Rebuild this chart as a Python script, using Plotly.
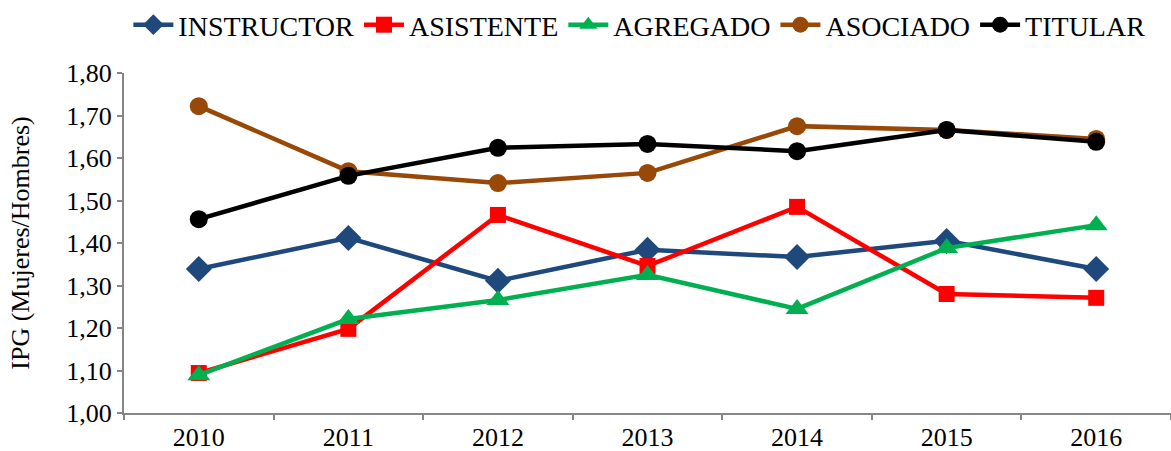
import plotly.graph_objects as go

# Data
years = ["2010", "2011", "2012", "2013", "2014", "2015", "2016"]
instructor = [1.339, 1.412, 1.311, 1.384, 1.367, 1.405, 1.339]
asistente = [1.094, 1.198, 1.466, 1.346, 1.485, 1.280, 1.271]
agregado = [1.089, 1.221, 1.266, 1.325, 1.245, 1.388, 1.442]
asociado = [1.722, 1.569, 1.541, 1.565, 1.675, 1.666, 1.645]
titular = [1.456, 1.558, 1.624, 1.633, 1.616, 1.666, 1.638]

series = [
    ("INSTRUCTOR", instructor, "#1F497D", "diamond", 20),
    ("ASISTENTE", asistente, "#FF0000", "square", 16),
    ("AGREGADO", agregado, "#00B050", "triangle-up", 20),
    ("ASOCIADO", asociado, "#984807", "circle", 18),
    ("TITULAR", titular, "#000000", "circle", 18),
]

font_family = "Liberation Serif, Times New Roman, serif"

fig = go.Figure()
for name, vals, color, symbol, size in series:
    fig.add_trace(go.Scatter(
        x=years, y=vals, name=name, mode="lines+markers",
        line=dict(color=color, width=4.5),
        marker=dict(color=color, symbol=symbol, size=size),
    ))

fig.update_layout(
    width=1171, height=451,
    margin=dict(l=124, r=0, t=73, b=38),
    paper_bgcolor="white", plot_bgcolor="white",
    separators=",.",
    font=dict(family=font_family, size=26, color="black"),
    legend=dict(orientation="h", x=0.546, xref="container", xanchor="center",
                y=1.0, yanchor="top", yref="container", font=dict(size=28),
                itemwidth=40, traceorder="normal", tracegroupgap=0),
    showlegend=True,
)

fig.update_xaxes(
    type="category", range=[-0.5, 6.5], tickson="boundaries",
    showline=True, linecolor="#868686", linewidth=2,
    ticks="outside", ticklen=5, tickcolor="#868686", tickwidth=2,
    showgrid=False, zeroline=False, tickfont=dict(size=26), automargin=False,
)
fig.update_yaxes(
    range=[1.0, 1.8], dtick=0.1, tickformat=".2f",
    showline=True, linecolor="#868686", linewidth=2,
    ticks="outside", ticklen=5, tickcolor="#868686", tickwidth=2,
    showgrid=False, zeroline=False, tickfont=dict(size=26), automargin=False,
    title=dict(text="IPG (Mujeres/Hombres)", font=dict(size=26), standoff=29),
)

fig.write_html("out.html", config={"displayModeBar": False},
               post_script="document.body.style.margin='0';")
